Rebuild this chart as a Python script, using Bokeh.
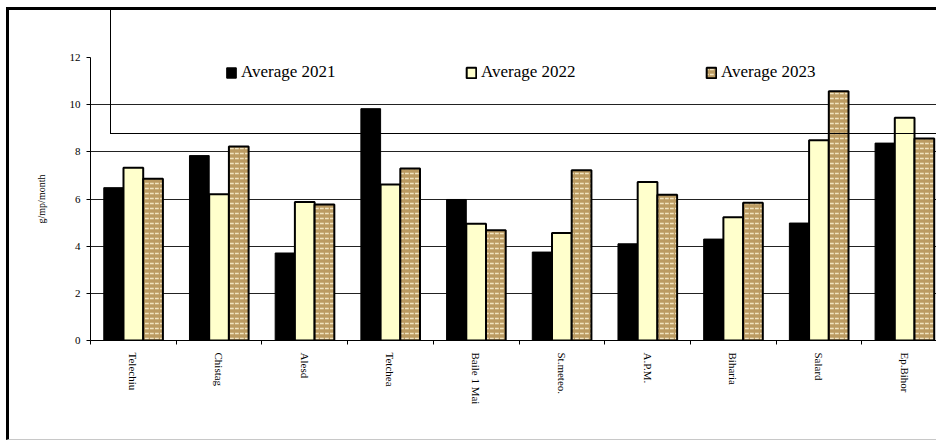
import numpy as np
from bokeh.plotting import figure
from bokeh.models import FixedTicker, Legend, LegendItem, InlineStyleSheet
from bokeh.embed import file_html
from bokeh.resources import INLINE

# Monthly sedimentable dust averages per sampling station
stations = ["Telechiu", "Chistag", "Alesd", "Tetchea", "Baile 1 Mai",
            "St.meteo.", "A.P.M.", "Biharia", "Salard", "Ep.Bihor"]
avg_2021 = [6.48, 7.84, 3.71, 9.83, 5.98, 3.75, 4.10, 4.30, 4.98, 8.37]
avg_2022 = [7.33, 6.20, 5.87, 6.61, 4.95, 4.56, 6.72, 5.23, 8.49, 9.45]
avg_2023 = [6.86, 8.23, 5.77, 7.29, 4.67, 7.22, 6.18, 5.84, 10.57, 8.57]
y_ticks = [0, 2, 4, 6, 8, 10, 12]
series_names = ["Average 2021", "Average 2022", "Average 2023"]

SERIF = "Liberation Serif"

centers = np.arange(len(stations)) + 0.5
bar_w = 0.23

p = figure(width=936, height=441, x_range=(0, 846 / 85.7), y_range=(0, 12),
           output_backend="svg", toolbar_location=None,
           min_border_left=90, min_border_right=0,
           min_border_top=57, min_border_bottom=101)
p.outline_line_color = None
p.background_fill_color = "white"
p.border_fill_color = "white"

r21 = p.vbar(x=centers - bar_w, top=avg_2021, width=bar_w,
             fill_color="black", line_color="black", line_width=1)
r22 = p.vbar(x=centers, top=avg_2022, width=bar_w,
             fill_color="#ffffcc", line_color="black", line_width=2)
r23 = p.vbar(x=centers + bar_w, top=avg_2023, width=bar_w,
             fill_color="#bb9b62", hatch_pattern="horizontal_dash",
             hatch_color="#f1e4c0", hatch_scale=5, hatch_weight=1.5,
             line_color="black", line_width=2)

# x axis: station names centred, small tick marks between groups
p.xaxis.ticker = FixedTicker(ticks=list(centers), minor_ticks=list(range(0, len(stations) + 1)))
p.xaxis.major_label_overrides = {float(c): s for c, s in zip(centers, stations)}
p.xaxis.major_label_orientation = "vertical"
p.xaxis.major_tick_out = 0
p.xaxis.major_tick_in = 0
p.xaxis.minor_tick_out = 4
p.xaxis.minor_tick_in = 0
p.xaxis.minor_tick_line_color = "black"
p.xaxis.major_label_standoff = 8
p.xaxis.major_label_text_font = SERIF
p.xaxis.major_label_text_font_size = "11px"
p.xaxis.major_label_text_color = "black"
p.xaxis.axis_line_color = "black"

# y axis
p.yaxis.ticker = FixedTicker(ticks=y_ticks)
p.yaxis.major_tick_out = 4
p.yaxis.major_tick_in = 0
p.yaxis.minor_tick_out = 0
p.yaxis.minor_tick_in = 0
p.yaxis.major_label_standoff = 6
p.yaxis.major_label_text_font = SERIF
p.yaxis.major_label_text_font_size = "11px"
p.yaxis.major_label_text_color = "black"
p.yaxis.axis_line_color = "black"
p.yaxis.axis_label = "g/mp/month"
p.yaxis.axis_label_text_font = SERIF
p.yaxis.axis_label_text_font_size = "10px"
p.yaxis.axis_label_text_font_style = "normal"
p.yaxis.axis_label_text_color = "black"
p.yaxis.axis_label_standoff = 20

p.xgrid.grid_line_color = None
p.ygrid.ticker = FixedTicker(ticks=y_ticks)
p.ygrid.grid_line_color = "#222222"
p.ygrid.grid_line_width = 1

legend = Legend(items=[LegendItem(label=n, renderers=[r]) for n, r in zip(series_names, [r21, r22, r23])],
                orientation="horizontal", location=(135, 258),
                border_line_color=None, background_fill_alpha=0,
                glyph_width=12, glyph_height=13, label_standoff=4,
                label_width=100, spacing=124, padding=0, margin=0,
                label_text_font=SERIF, label_text_font_size="17px",
                label_text_color="black")
p.add_layout(legend, "center")

# chart border and the open legend frame, drawn over the canvas
frame_css = """
:host { position: relative; }
:host::before {
  content: ""; position: absolute; left: 110px; top: 7px; right: 0; height: 127px;
  box-sizing: border-box; border-left: 1px solid #000; border-bottom: 1px solid #000;
  z-index: 5; pointer-events: none;
}
:host::after {
  content: ""; position: absolute; left: 6px; top: 7px; right: 0; bottom: 1px;
  box-sizing: border-box; border-top: 3px solid #000; border-left: 3px solid #000;
  border-bottom: 1px solid #c8c8c8; z-index: 6; pointer-events: none;
}
"""
p.stylesheets = [InlineStyleSheet(css=frame_css)]

open("out.html", "w").write(file_html(p, INLINE))
